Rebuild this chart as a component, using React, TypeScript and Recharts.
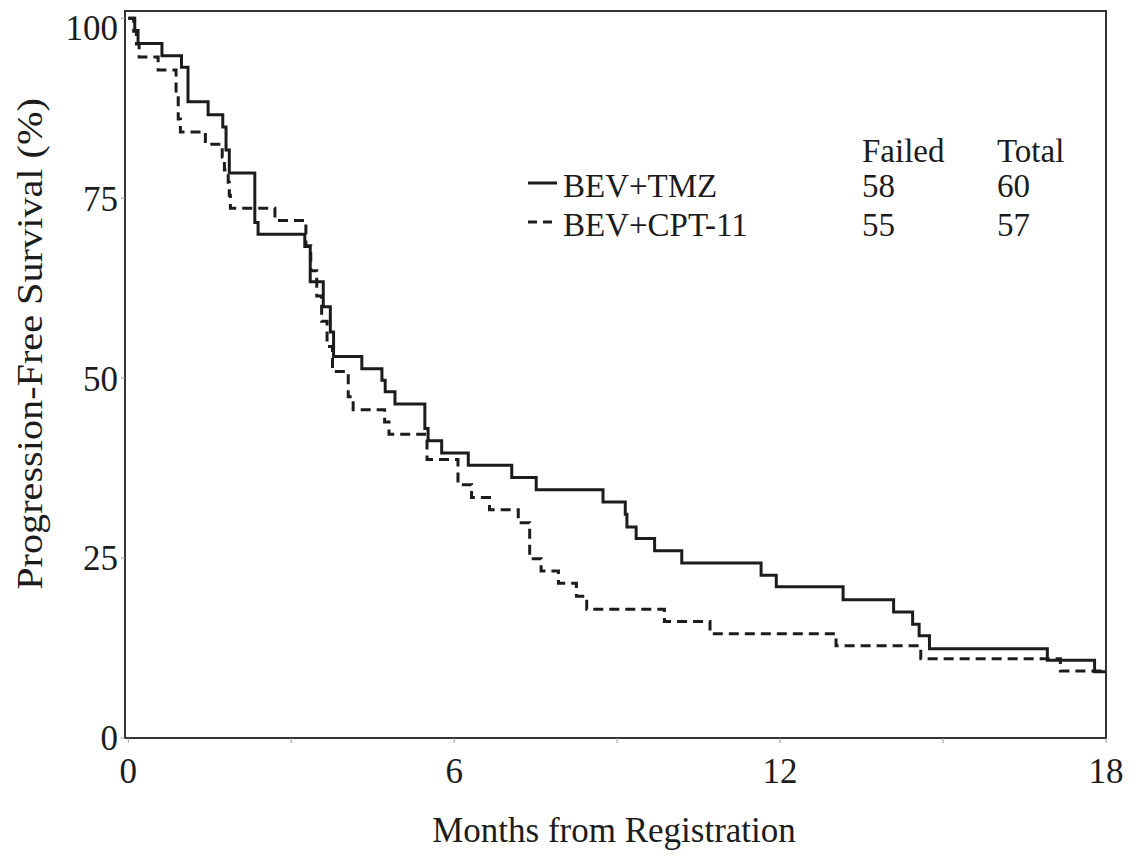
import { LineChart, Line, XAxis, YAxis, ReferenceArea, Legend } from "recharts"

// Kaplan-Meier steps, months from registration vs % progression-free
const tmzMonths = [0, 0.12, 0.18, 0.62, 0.98, 1.1, 1.47, 1.74, 1.8, 1.86, 2.33, 2.39, 3.25, 3.35, 3.59, 3.72, 3.78, 4.3, 4.67, 4.73, 4.91, 5.46, 5.52, 5.77, 6.26, 7.06, 7.51, 8.74, 9.15, 9.18, 9.35, 9.69, 10.19, 11.65, 11.93, 13.16, 14.09, 14.44, 14.56, 14.75, 16.92, 17.79, 18]
const tmzSurvival = [100, 98.3, 96.5, 94.8, 93.2, 88.4, 86.6, 84.9, 81.7, 78.5, 71.6, 70, 68.3, 63.4, 59.9, 56.4, 53, 51.3, 49.7, 48.1, 46.4, 43, 41.3, 39.6, 37.9, 36.2, 34.5, 32.8, 31.1, 29.3, 27.7, 26, 24.3, 22.6, 21, 19.2, 17.5, 15.8, 14.2, 12.4, 10.8, 9.2, 9.2]

const cptMonths = [0, 0.1, 0.15, 0.2, 0.55, 0.88, 0.92, 0.96, 1.42, 1.73, 1.77, 1.84, 1.86, 1.88, 2.7, 3.27, 3.36, 3.47, 3.56, 3.66, 3.76, 4.05, 4.14, 4.72, 4.8, 5.5, 6.07, 6.32, 6.65, 7.18, 7.39, 7.6, 7.92, 8.25, 8.44, 9.87, 10.71, 13.03, 14.59, 17.16, 18]
const cptSurvival = [100, 98.2, 96.4, 94.6, 92.8, 89.5, 86, 84.2, 82.5, 80.7, 78.9, 77.2, 75.4, 73.6, 71.9, 68.4, 64.9, 61.4, 57.9, 54.4, 50.9, 47.4, 45.6, 43.9, 42.2, 38.7, 35.2, 33.4, 31.7, 29.9, 24.9, 23.2, 21.5, 19.7, 17.9, 16.2, 14.5, 12.8, 11, 9.3, 9.3]

const xTicks = [0, 3, 6, 9, 12, 15, 18]
const yTicks = [0, 25, 50, 75, 100]

const groups = ["BEV+TMZ", "BEV+CPT-11"]
const failed = [58, 55]
const total = [60, 57]

const tmzData = tmzMonths.map((t, i) => ({ t, pfs: tmzSurvival[i] }))
const cptData = cptMonths.map((t, i) => ({ t, pfs: cptSurvival[i] }))

const font = "'Liberation Serif', 'Times New Roman', serif"
const ink = "#1c1c1c"
const serif = { fontFamily: font }

function KmLegend() {
  return (
    <svg width={1130} height={850} style={{ position: "absolute", left: 0, top: 0, pointerEvents: "none" }}>
      <g style={serif} fontSize={33} fill={ink}>
        <text x={854} y={154}>Failed</text>
        <text x={989} y={154}>Total</text>
        {groups.map((g, i) => (
          <g key={g}>
            <line
              x1={520}
              x2={549}
              y1={175 + i * 39}
              y2={175 + i * 39}
              stroke={ink}
              strokeWidth={3}
              strokeDasharray={i === 1 ? "9 6" : undefined}
            />
            <text x={555} y={189 + i * 39}>{g}</text>
            <text x={854} y={189 + i * 39}>{failed[i]}</text>
            <text x={989} y={189 + i * 39}>{total[i]}</text>
          </g>
        ))}
      </g>
    </svg>
  )
}

export default function App() {
  return (
    <div style={{ width: 1130, height: 850, background: "#fff" }}>
      <LineChart width={1130} height={850} margin={{ top: 3, right: 32, left: 0, bottom: 0 }}>
        <XAxis
          dataKey="t"
          type="number"
          domain={[-0.06, 18]}
          ticks={xTicks}
          tickFormatter={(v) => (v % 6 === 0 ? `${v}` : "")}
          allowDataOverflow
          height={120}
          axisLine={{ stroke: "#333", strokeWidth: 2 }}
          tickLine={{ stroke: "#999" }}
          tickSize={5}
          tickMargin={15}
          tick={{ fontFamily: font, fontSize: 35, fill: ink }}
          label={{
            content: () => (
              <text x={606} y={834} textAnchor="middle" style={serif} fontSize={35} fill={ink}>
                Months from Registration
              </text>
            ),
          }}
        />
        <YAxis
          type="number"
          domain={[0, 101]}
          ticks={yTicks}
          allowDataOverflow
          width={117}
          axisLine={{ stroke: "#333", strokeWidth: 2 }}
          tickLine={{ stroke: "#999" }}
          tickSize={4}
          tickMargin={3}
          tick={{ fontFamily: font, fontSize: 35, fill: ink }}
          label={{
            content: () => (
              <text
                transform="translate(22 336) rotate(-90) scale(1.15 1)"
                textAnchor="middle"
                dominantBaseline="central"
                style={serif}
                fontSize={35}
                fill={ink}
              >
                Progression-Free Survival (%)
              </text>
            ),
          }}
        />
        <ReferenceArea x1={-0.06} x2={18} y1={0} y2={101} fill="none" stroke="#333" strokeWidth={2} />
        <Line
          data={tmzData}
          dataKey="pfs"
          name="BEV+TMZ"
          type="stepAfter"
          stroke={ink}
          strokeWidth={3}
          dot={false}
          isAnimationActive={false}
        />
        <Line
          data={cptData}
          dataKey="pfs"
          name="BEV+CPT-11"
          type="stepAfter"
          stroke={ink}
          strokeWidth={3}
          strokeDasharray="10 6"
          dot={false}
          isAnimationActive={false}
        />
        <Legend
          layout="vertical"
          align="center"
          verticalAlign="middle"
          wrapperStyle={{ left: 0, top: 0, width: 1130, height: 850 }}
          content={() => <KmLegend />}
        />
      </LineChart>
    </div>
  )
}
